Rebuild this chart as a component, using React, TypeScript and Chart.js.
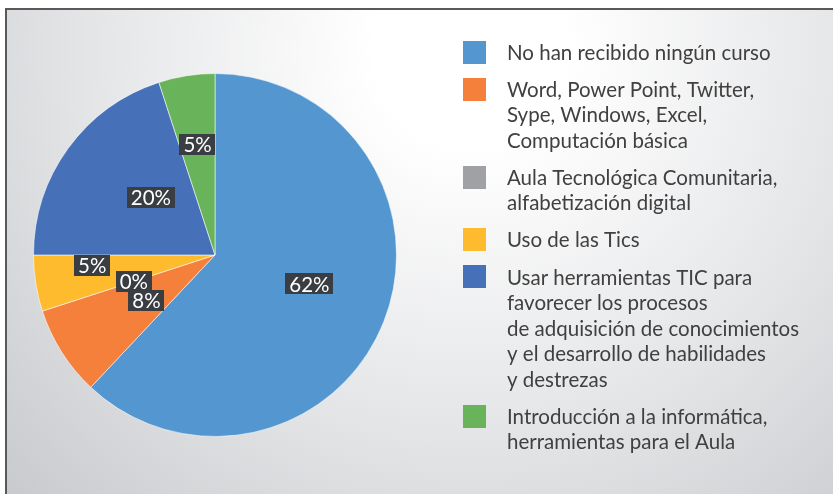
import { useEffect, useRef } from "react";
import { Chart, registerables } from "chart.js";

Chart.register(...registerables);

const categories: string[][] = [
  ["No han recibido ningún curso"],
  ["Word, Power Point, Twitter,", "Sype, Windows, Excel,", "Computación básica"],
  ["Aula Tecnológica Comunitaria,", "alfabetización digital"],
  ["Uso de las Tics"],
  [
    "Usar herramientas TIC para",
    "favorecer los procesos",
    "de adquisición de conocimientos",
    "y el desarrollo de habilidades",
    "y destrezas",
  ],
  ["Introducción a la informática,", "herramientas para el Aula"],
];
const values = [62, 8, 0, 5, 20, 5];
const colors = ["#5496D0", "#F4803B", "#A0A1A5", "#FDBB2D", "#4671B9", "#69B45A"];

const FONT = "Lato, 'Open Sans', sans-serif";

const backgroundPlugin = {
  id: "bgFrame",
  beforeDraw(chart: any) {
    const { ctx, width, height } = chart;
    ctx.save();
    const g = ctx.createRadialGradient(470, 50, 0, 470, 50, 640);
    g.addColorStop(0, "#ffffff");
    g.addColorStop(0.15, "#ffffff");
    g.addColorStop(0.6, "#e4e5e7");
    g.addColorStop(1, "#c8cacd");
    ctx.fillStyle = g;
    ctx.fillRect(7, 10, width - 7, height - 10);
    ctx.strokeStyle = "#595959";
    ctx.lineWidth = 2;
    ctx.beginPath();
    ctx.moveTo(6, height);
    ctx.lineTo(6, 9);
    ctx.lineTo(width, 9);
    ctx.stroke();
    ctx.restore();
  },
};

const labelPlugin = {
  id: "pctLabels",
  afterDatasetsDraw(chart: any, _args: any, opts: any) {
    const { ctx } = chart;
    const meta = chart.getDatasetMeta(0);
    const data = chart.data.datasets[0].data as number[];
    const total = data.reduce((a, b) => a + b, 0);
    ctx.save();
    ctx.font = `20.5px ${FONT}`;
    ctx.textAlign = "center";
    ctx.textBaseline = "middle";
    meta.data.forEach((arc: any, i: number) => {
      const p = arc.getProps(["x", "y", "startAngle", "endAngle", "outerRadius"], true);
      const mid = (p.startAngle + p.endAngle) / 2 + (opts.angleShift[i] || 0);
      const r = p.outerRadius * opts.radial[i];
      const lx = p.x + Math.cos(mid) * r;
      const ly = p.y + Math.sin(mid) * r;
      const text = Math.round((data[i] / total) * 100) + "%";
      const w = ctx.measureText(text).width + 8;
      const h = 21;
      ctx.fillStyle = "#3a3d41";
      ctx.fillRect(Math.round(lx - w / 2), Math.round(ly - h / 2), Math.round(w), h);
      ctx.fillStyle = "#ffffff";
      ctx.fillText(text, lx, ly + 1);
    });
    ctx.restore();
  },
};

const legendPlugin = {
  id: "customLegend",
  afterDraw(chart: any, _args: any, opts: any) {
    const { ctx } = chart;
    const labels = chart.data.labels as string[][];
    const bg = chart.data.datasets[0].backgroundColor as string[];
    ctx.save();
    ctx.font = `${opts.fontSize}px ${FONT}`;
    ctx.textAlign = "left";
    ctx.textBaseline = "middle";
    let y = opts.top;
    labels.forEach((lines, i) => {
      ctx.fillStyle = bg[i];
      ctx.fillRect(opts.boxX, Math.round(y - opts.box / 2), opts.box, opts.box);
      ctx.fillStyle = "#404040";
      lines.forEach((line, j) => {
        ctx.fillText(line, opts.textX, y + j * opts.lineHeight + 1);
      });
      y += lines.length * opts.lineHeight + opts.gap;
    });
    ctx.restore();
  },
};

export default function App() {
  const ref = useRef<HTMLCanvasElement>(null);
  useEffect(() => {
    document.body.style.margin = "0";
    const chart = new Chart(ref.current!, {
      type: "pie",
      data: {
        labels: categories as any,
        datasets: [
          {
            data: values,
            backgroundColor: colors,
            borderColor: "rgba(255,255,255,0.55)",
            borderWidth: 1,
          },
        ],
      },
      options: {
        responsive: false,
        animation: false,
        layout: { padding: { left: 33, top: 73, right: 436, bottom: 57 } },
        plugins: {
          legend: { display: false },
          tooltip: { enabled: false },
          pctLabels: {
            radial: [0.544, 0.453, 0.47, 0.679, 0.473, 0.615],
            angleShift: [-0.08, -0.02, 0, 0.07, 0.1, 0],
          },
          customLegend: {
            boxX: 463,
            textX: 507,
            box: 23,
            top: 52,
            lineHeight: 25.5,
            gap: 11.6,
            fontSize: 20.5,
          },
        } as any,
      },
      plugins: [backgroundPlugin, labelPlugin, legendPlugin],
    });
    return () => chart.destroy();
  }, []);
  return (
    <div style={{ width: 833, height: 494 }}>
      <canvas ref={ref} width={833} height={494} />
    </div>
  );
}
